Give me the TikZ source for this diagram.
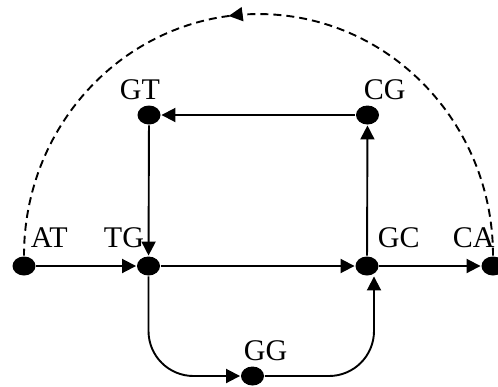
\documentclass[tikz,border=0pt]{standalone}
\usepackage{fontspec}
\setmainfont{Liberation Serif}
\usetikzlibrary{arrows.meta,shapes.geometric,decorations.markings}
\begin{document}
\begin{tikzpicture}[x=1pt,y=-1pt,
  dot/.style={ellipse,fill=black,minimum width=23pt,minimum height=19pt,inner sep=0pt},
  lbl/.style={anchor=base west,inner sep=0pt,font=\fontsize{30}{33}\selectfont},
  conn/.style={line width=1.9pt,-{Triangle[length=14pt,width=14pt]}},
  every path/.style={line width=1.9pt}]
\useasboundingbox (0,0) rectangle (498,386);
\node[dot] (AT) at (24,266) {};
\node[dot] (TG) at (148.5,266) {};
\node[dot] (GC) at (367,266) {};
\node[dot] (CA) at (493,266) {};
\node[dot] (GT) at (149,115) {};
\node[dot] (CG) at (367.5,115) {};
\node[dot] (GG) at (252.5,376) {};
\node[lbl] (lAT) at (30,247) {AT};
\node[lbl] (lTG) at (103,247) {TG};
\node[lbl] (lGC) at (377,247) {GC};
\node[lbl] (lCA) at (452,247) {CA};
\node[lbl] (lGT) at (119,99) {GT};
\node[lbl] (lCG) at (363,99) {CG};
\node[lbl] (lGG) at (243,360) {GG};
\draw[conn] (AT) -- (TG);
\draw[conn] (TG) -- (GC);
\draw[conn] (GC) -- (CA);
\draw[conn] (GT) -- (TG);
\draw[conn] (GC) -- (CG);
\draw[conn] (CG) -- (GT);
\draw[conn,rounded corners=45pt] (TG) |- (GG);
\coordinate (GCin) at ([xshift=7pt]GC.south);
\draw[conn,rounded corners=45pt] (GG) -| (GCin);
\draw[line width=1.9pt,dash pattern=on 8pt off 5pt,
  postaction={decorate},
  decoration={markings,mark=at position 0.54 with {\arrow{Triangle[length=14pt,width=14pt]}}}]
  (CA.north) arc[start angle=0,end angle=-180,x radius=234.5,y radius=241.5];
\end{tikzpicture}
\end{document}
